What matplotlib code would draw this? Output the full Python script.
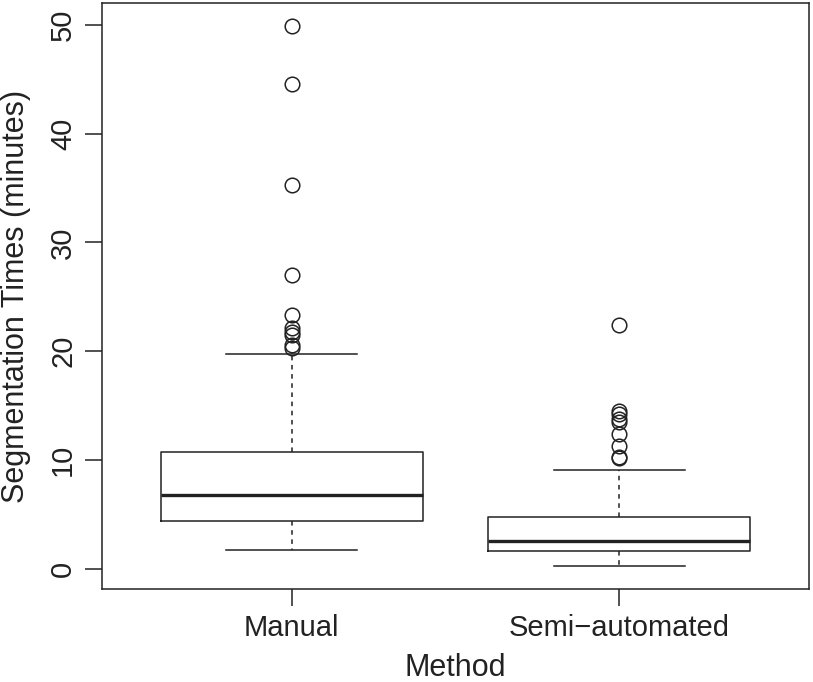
import matplotlib
matplotlib.use("Agg")
import matplotlib.pyplot as plt

plt.rcParams["font.family"] = ["Liberation Sans", "DejaVu Sans"]

methods = ["Manual", "Semi\u2212automated"]
q1 = [4.45, 1.65]
med = [6.75, 2.6]
q3 = [10.7, 4.75]
whislo = [1.75, 0.25]
whishi = [19.75, 9.1]
fliers_manual = [49.9, 44.6, 35.3, 27.0, 23.3, 22.1, 21.8, 21.5, 20.6, 20.3]
fliers_semi = [22.4, 14.5, 14.2, 13.8, 13.5, 12.4, 11.3, 10.3, 10.2]
fliers = [fliers_manual, fliers_semi]

stats = []
for i in range(len(methods)):
    stats.append({"label": methods[i], "q1": q1[i], "med": med[i], "q3": q3[i],
                  "whislo": whislo[i], "whishi": whishi[i], "fliers": fliers[i]})

ink = "#222222"
fig = plt.figure(figsize=(8.13, 6.82), dpi=100)
ax = fig.add_axes([0.1255, 0.1364, 0.8695, 0.8592])

ax.bxp(stats, positions=[1, 2], widths=0.8, showcaps=True,
       boxprops=dict(color=ink, linewidth=1.1),
       medianprops=dict(color=ink, linewidth=2.4),
       whiskerprops=dict(color=ink, linewidth=1.1, linestyle=(0, (3, 3))),
       capprops=dict(color=ink, linewidth=1.1),
       flierprops=dict(marker="o", markersize=10.5, markerfacecolor="none",
                       markeredgecolor=ink, markeredgewidth=1.1))

ax.set_xlim(0.42, 2.58)
ax.set_ylim(-1.84, 52.0)
ax.set_yticks([0, 10, 20, 30, 40, 50])
ax.set_yticklabels(["0", "10", "20", "30", "40", "50"], rotation=90, va="center")
ax.tick_params(axis="both", length=12, width=1.1, color=ink, labelcolor=ink,
               labelsize=21)
ax.tick_params(axis="x", pad=6)
ax.tick_params(axis="y", pad=6)
for s in ax.spines.values():
    s.set_color(ink)
    s.set_linewidth(1.1)

ax.set_xlabel("Method", fontsize=22, color=ink)
ax.set_ylabel("Segmentation Times (minutes)", fontsize=22, color=ink)
ax.xaxis.set_label_coords(0.5, -0.109)
ax.yaxis.set_label_coords(-0.100, 0.5)

fig.savefig("out.png", dpi=100)
